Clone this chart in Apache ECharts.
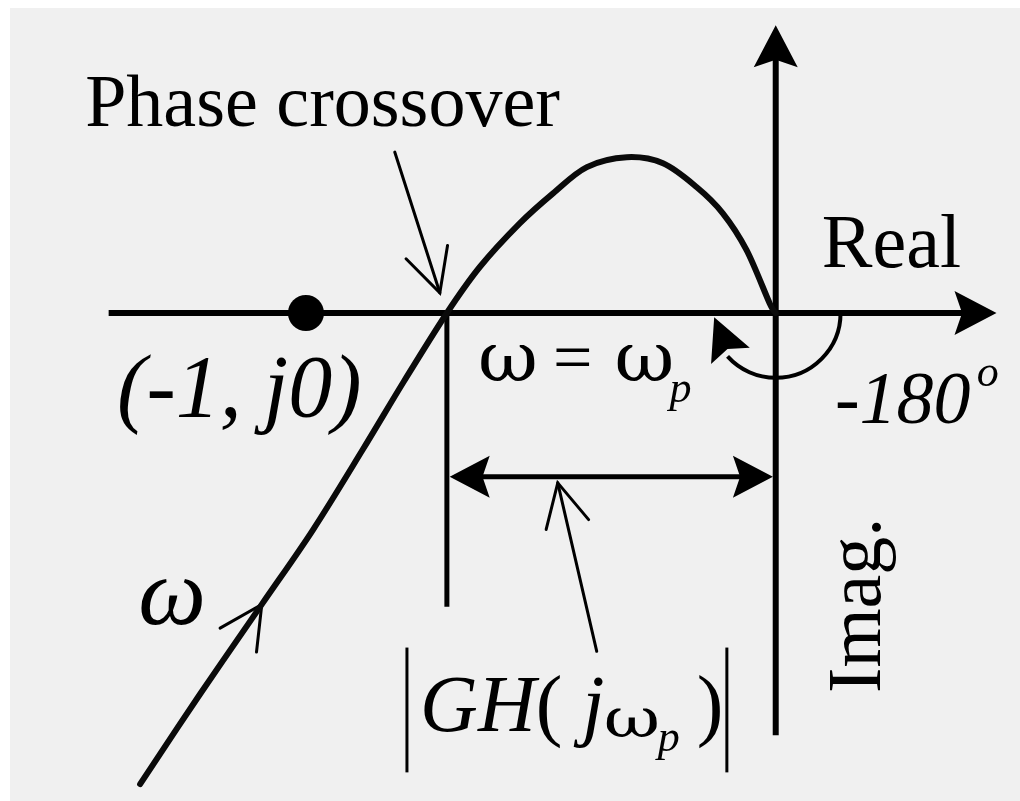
<!DOCTYPE html>
<html>
<head>
<meta charset="utf-8">
<script src="https://cdn.jsdelivr.net/npm/echarts@6/dist/echarts.min.js"></script>
<style>
  html, body { margin: 0; padding: 0; background: #f0f0f0; width: 1020px; height: 801px; overflow: hidden; }
  #chart { position: absolute; left: 0; top: 0; width: 1020px; height: 801px; }
  .edge { position: absolute; background: #ffffff; z-index: 5; }
  #edgeTop { left: 0; top: 0; width: 1020px; height: 8px; }
  #edgeLeft { left: 0; top: 0; width: 10px; height: 801px; }
</style>
</head>
<body>
<div id="chart"></div>
<div class="edge" id="edgeTop"></div>
<div class="edge" id="edgeLeft"></div>
<script>
// Nyquist locus of GH(jω) in the complex plane (real, imaginary parts)
const locusRe = [-1.353, -1.226, -1.094, -0.985, -0.879, -0.791, -0.700, -0.630, -0.545, -0.474, -0.402, -0.317, -0.240, -0.168, -0.113, -0.062, -0.013, 0];
const locusIm = [-1.004, -0.813, -0.621, -0.462, -0.291, -0.145, 0, 0.098, 0.191, 0.255, 0.311, 0.332, 0.319, 0.268, 0.213, 0.134, 0.021, 0];

// Critical point (-1, j0)
const criticalPoint = [-1, 0];

// Real / imaginary axes: [x1, y1, x2, y2]
const axisLines = [
  [-1.42, 0, 0.470, 0],
  [0, -0.90, 0, 0.613]
];
// Vertical drop from the phase-crossover point
const crossoverDrop = [[-0.700, 0, -0.700, -0.626]];
// |GH(jω_p)| span between crossover and origin
const marginSpan = [[-0.694, -0.349, -0.006, -0.349]];
// Thin pointer arrows: "Phase crossover", |GH| label, direction of increasing ω
const pointers = [
  [-0.811, 0.343, -0.715, 0.043],
  [-0.381, -0.721, -0.464, -0.362],
  [-1.140, -0.691, -1.094, -0.621]
];
// Magnitude bars around |GH(jω_p)|
const magnitudeBars = [
  [-0.785, -0.713, -0.785, -0.979],
  [-0.104, -0.713, -0.104, -0.979]
];
// -180° phase arc: [centerRe, centerIm, radius, sweep in degrees]
const phaseArc = [[0, 0, 0.138, 138]];
const phaseArcHead = [[-0.100, -0.083, -0.131, -0.009]];

// Text labels: [text, re, im]
const labels = [
  ['Phase crossover', -1.470, 0.440],
  ['Real', 0.098, 0.140],
  ['(-1, j0)', -1.402, -0.170],
  ['-180', 0.126, -0.194],
  ['o', 0.428, -0.130],
  ['ω', -1.357, -0.610],
  ['ω', -0.634, -0.107],
  ['=', -0.474, -0.105],
  ['ω', -0.343, -0.107],
  ['p', -0.226, -0.166],
  ['{i|GH}{u|(}{i| j}', -0.757, -0.845],
  ['ω', -0.366, -0.874],
  ['p', -0.251, -0.909],
  [')', -0.168, -0.845],
  ['Imag.', 0.179, -0.623]
];

const INK = '#000000';
const SERIF = '"Liberation Serif", "Times New Roman", Times, serif';
const GREEK = '"DejaVu Serif", "Liberation Serif", serif';

// Per-label font settings (same order as labels)
const labelFonts = [
  { size: 74, style: 'normal' },
  { size: 76, style: 'normal' },
  { size: 88, style: 'italic' },
  { size: 74, style: 'italic' },
  { size: 44, style: 'italic' },
  { size: 96, style: 'italic' },
  { size: 70, style: 'normal', family: GREEK, scaleX: 1.05 },
  { size: 70, style: 'normal' },
  { size: 70, style: 'normal', family: GREEK, scaleX: 1.05 },
  { size: 44, style: 'italic' },
  { size: 80, style: 'italic', rich: {
      i: { fontFamily: SERIF, fontSize: 80, fontStyle: 'italic' },
      u: { fontFamily: SERIF, fontSize: 80, fontStyle: 'normal' }
  } },
  { size: 54, style: 'normal', family: GREEK, scaleX: 1.28 },
  { size: 44, style: 'italic' },
  { size: 80, style: 'normal' },
  { size: 76, style: 'normal', rotate: true }
];

function arrowRenderer(o) {
  return function (params, api) {
    const a = api.coord([api.value(0), api.value(1)]);
    const b = api.coord([api.value(2), api.value(3)]);
    let dx = b[0] - a[0], dy = b[1] - a[1];
    const L = Math.hypot(dx, dy) || 1;
    dx /= L; dy /= L;
    const nx = -dy, ny = dx;
    const children = [];
    let s = a.slice(), e = b.slice();
    if (o.head === 'solid') {
      e = [b[0] - dx * o.len * 0.6, b[1] - dy * o.len * 0.6];
      if (o.both) s = [a[0] + dx * o.len * 0.6, a[1] + dy * o.len * 0.6];
    }
    if (o.lineWidth > 0) {
      children.push({
        type: 'line',
        shape: { x1: s[0], y1: s[1], x2: e[0], y2: e[1] },
        style: { stroke: INK, lineWidth: o.lineWidth, lineCap: o.cap || 'butt' }
      });
    }
    function solid(tip, ux, uy) {
      const bx = tip[0] - ux * o.len, by = tip[1] - uy * o.len;
      return {
        type: 'polygon',
        shape: { points: [
          tip,
          [bx + nx * o.half, by + ny * o.half],
          [tip[0] - ux * o.len * 0.82, tip[1] - uy * o.len * 0.82],
          [bx - nx * o.half, by - ny * o.half]
        ] },
        style: { fill: INK }
      };
    }
    function open(tip, ux, uy) {
      const ang = o.angle * Math.PI / 180;
      const c = Math.cos(ang), sn = Math.sin(ang);
      const bx = -ux, by = -uy;
      const r1 = [bx * c - by * sn, bx * sn + by * c];
      const r2 = [bx * c + by * sn, -bx * sn + by * c];
      return {
        type: 'polyline',
        shape: { points: [
          [tip[0] + r1[0] * o.len, tip[1] + r1[1] * o.len],
          tip,
          [tip[0] + r2[0] * o.len, tip[1] + r2[1] * o.len]
        ] },
        style: { stroke: INK, lineWidth: o.headWidth || o.lineWidth, fill: null, lineJoin: 'miter', lineCap: 'round' }
      };
    }
    if (o.head === 'solid') {
      children.push(solid(b, dx, dy));
      if (o.both) children.push(solid(a, -dx, -dy));
    } else if (o.head === 'open') {
      children.push(open(b, dx, dy));
    }
    return { type: 'group', children: children };
  };
}

function arrowSeries(name, data, o) {
  return {
    name: name,
    type: 'custom',
    coordinateSystem: 'cartesian2d',
    data: data,
    silent: true,
    z: o.z || 3,
    renderItem: arrowRenderer(o)
  };
}

// Smooth locus through its sample points (Catmull-Rom segments as cubic Béziers)
function locusRenderer(params, api) {
  if (params.dataIndex !== 0) return { type: 'group', children: [] };
  const n = locusRe.length;
  const P = [];
  for (let i = 0; i < n; i++) P.push(api.coord([locusRe[i], locusIm[i]]));
  let d = 'M' + P[0][0] + ' ' + P[0][1];
  for (let i = 0; i < n - 1; i++) {
    const p0 = P[Math.max(i - 1, 0)], p1 = P[i], p2 = P[i + 1], p3 = P[Math.min(i + 2, n - 1)];
    const c1 = [p1[0] + (p2[0] - p0[0]) / 6, p1[1] + (p2[1] - p0[1]) / 6];
    const c2 = [p2[0] - (p3[0] - p1[0]) / 6, p2[1] - (p3[1] - p1[1]) / 6];
    d += ' C' + c1[0] + ' ' + c1[1] + ' ' + c2[0] + ' ' + c2[1] + ' ' + p2[0] + ' ' + p2[1];
  }
  return {
    type: 'path',
    shape: { pathData: d },
    style: { stroke: '#0a0a0a', lineWidth: 6, fill: null, lineCap: 'round', lineJoin: 'round' }
  };
}

const chart = echarts.init(document.getElementById('chart'), null, { renderer: 'canvas' });

const option = {
  animation: false,
  backgroundColor: 'transparent',
  grid: { left: 10, top: 8, right: 0, bottom: 0, show: false },
  xAxis: { type: 'value', min: -1.63, max: 0.52, show: false },
  yAxis: { type: 'value', min: -1.04, max: 0.65, show: false },
  series: [
    arrowSeries('axes', axisLines, { lineWidth: 6, head: 'solid', len: 42, half: 22, z: 2 }),
    arrowSeries('crossover', crossoverDrop, { lineWidth: 5, head: 'none', z: 2 }),
    arrowSeries('span', marginSpan, { lineWidth: 5, head: 'solid', both: true, len: 40, half: 21 }),
    arrowSeries('pointers', pointers, { lineWidth: 3, head: 'open', len: 48, angle: 27, cap: 'round' }),
    arrowSeries('bars', magnitudeBars, { lineWidth: 3, head: 'none' }),
    arrowSeries('arcHead', phaseArcHead, { lineWidth: 0, head: 'solid', len: 42, half: 21 }),
    {
      name: 'phaseArc',
      type: 'custom',
      coordinateSystem: 'cartesian2d',
      data: phaseArc,
      silent: true,
      z: 3,
      renderItem: function (params, api) {
        const c = api.coord([api.value(0), api.value(1)]);
        const r = api.size([api.value(2), 0])[0];
        return {
          type: 'arc',
          shape: { cx: c[0], cy: c[1], r: r, startAngle: 0, endAngle: api.value(3) * Math.PI / 180, clockwise: true },
          style: { stroke: INK, lineWidth: 4, fill: null }
        };
      }
    },
    {
      name: 'GH(jω)',
      type: 'custom',
      coordinateSystem: 'cartesian2d',
      data: locusRe.map(function (re, i) { return [re, locusIm[i]]; }),
      silent: true,
      z: 4,
      renderItem: locusRenderer
    },
    {
      name: '(-1, j0)',
      type: 'scatter',
      data: [criticalPoint],
      symbol: 'circle',
      symbolSize: 36,
      itemStyle: { color: INK, opacity: 1 },
      z: 5,
      silent: true
    },
    {
      name: 'labels',
      type: 'custom',
      coordinateSystem: 'cartesian2d',
      data: labels.map(function (l) { return [l[1], l[2]]; }),
      silent: true,
      z: 6,
      renderItem: function (params, api) {
        const i = params.dataIndex;
        const f = labelFonts[i];
        const p = api.coord([api.value(0), api.value(1)]);
        const style = {
          text: labels[i][0],
          fill: INK,
          fontFamily: f.family || SERIF,
          fontSize: f.size,
          fontStyle: f.style,
          align: f.rotate ? 'center' : 'left',
          verticalAlign: 'middle',
          textAlign: f.rotate ? 'center' : 'left',
          textVerticalAlign: 'middle'
        };
        if (f.rich) {
          const rich = {};
          Object.keys(f.rich).forEach(function (k) {
            rich[k] = Object.assign({ fill: INK, color: INK }, f.rich[k]);
          });
          style.rich = rich;
        }
        return {
          type: 'text',
          x: p[0], y: p[1],
          rotation: f.rotate ? Math.PI / 2 : 0,
          scaleX: f.scaleX || 1,
          scaleY: 1,
          style: style
        };
      }
    }
  ]
};

chart.setOption(option);
</script>
</body>
</html>
